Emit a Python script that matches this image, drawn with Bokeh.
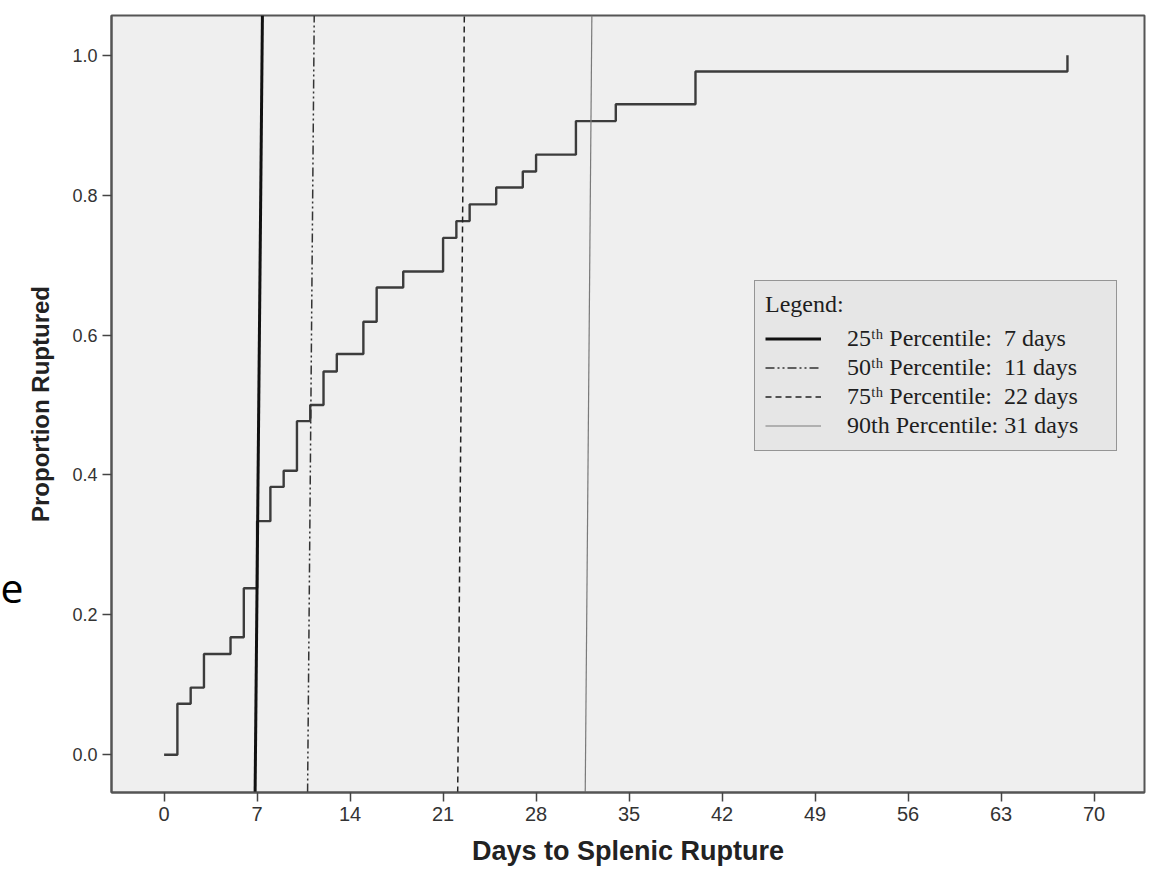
from bokeh.plotting import figure
from bokeh.layouts import row
from bokeh.models import Range1d, FixedTicker, PrintfTickFormatter, Legend, LegendItem, Label
from bokeh.embed import file_html
from bokeh.resources import INLINE

# ---- data ----
days = [0, 1, 2, 3, 5, 6, 7, 8, 9, 10, 11, 12, 13, 15, 16, 18, 21, 22, 23, 25, 27, 28, 31, 34, 40, 68]
proportion = [0.0, 0.073, 0.096, 0.144, 0.168, 0.238, 0.334, 0.383, 0.406, 0.477, 0.500,
              0.548, 0.573, 0.619, 0.668, 0.691, 0.739, 0.763, 0.787, 0.811, 0.834,
              0.858, 0.906, 0.930, 0.977, 1.0]

pct_labels = ["25\u1d57\u02b0 Percentile:\u00a0 7 days",
              "50\u1d57\u02b0 Percentile:\u00a0 11 days",
              "75\u1d57\u02b0 Percentile:\u00a0 22 days",
              "90th Percentile: 31 days"]
pct_x_bottom = [6.85, 10.8, 22.1, 31.7]   # where each marker line meets the x axis
pct_x_top = [7.4, 11.3, 22.6, 32.2]       # where it meets the top of the frame

x_ticks = [0, 7, 14, 21, 28, 35, 42, 49, 56, 63, 70]
y_ticks = [0.0, 0.2, 0.4, 0.6, 0.8, 1.0]

x_lo, x_hi = -3.96, 73.8
y_lo, y_hi = -0.054, 1.057

pct_styles = [
    dict(line_color="#111111", line_width=3.0, line_dash="solid"),
    dict(line_color="#333333", line_width=1.5, line_dash="9 3 2 3 2 3"),
    dict(line_color="#222222", line_width=1.5, line_dash="6 4"),
    dict(line_color="#7a7a7a", line_width=1.2, line_dash="solid"),
]

# narrow strip on the far left holding the slide's stray letter
side = figure(width=23, height=874, output_backend="svg", toolbar_location=None,
              x_axis_location=None, y_axis_location=None,
              min_border=0, outline_line_color=None,
              background_fill_color="white", border_fill_color="white")
side.xgrid.visible = False
side.ygrid.visible = False
side.add_layout(Label(x=0, y=204, x_units="screen", y_units="screen", text="e",
                      text_font="Open Sans", text_font_size="41px",
                      text_align="left", text_baseline="alphabetic", text_color="black"))

p = figure(width=1127, height=874,
           x_range=Range1d(x_lo, x_hi), y_range=Range1d(y_lo, y_hi),
           output_backend="svg", toolbar_location=None,
           min_border_left=88, min_border_right=6, min_border_top=15, min_border_bottom=82,
           background_fill_color="#efefef", border_fill_color="white",
           outline_line_color="#555555", outline_line_width=2)

p.xgrid.visible = False
p.ygrid.visible = False

# step curve
p.step(days, proportion, mode="after", line_color="#3c3c3c", line_width=2.4)

# percentile marker lines
renderers = []
for xb, xt, st in zip(pct_x_bottom, pct_x_top, pct_styles):
    r = p.segment(x0=[xb], y0=[y_lo], x1=[xt], y1=[y_hi], **st)
    renderers.append(r)

# axes
for ax in (p.xaxis, p.yaxis):
    ax.minor_tick_line_color = None
    ax.major_tick_in = 0
    ax.major_tick_out = 9
    ax.major_tick_line_color = "#444444"
    ax.major_tick_line_width = 1.5
    ax.axis_line_color = "#555555"
    ax.axis_line_width = 2
    ax.major_label_text_font = "Liberation Sans"
    ax.major_label_text_color = "#333333"
    ax.axis_label_text_font = "Liberation Sans"
    ax.axis_label_text_font_style = "bold"
    ax.axis_label_text_color = "#222222"

p.xaxis.ticker = FixedTicker(ticks=x_ticks)
p.xaxis.major_label_text_font_size = "20px"
p.xaxis.major_label_standoff = 5
p.xaxis.axis_label = "Days to Splenic Rupture"
p.xaxis.axis_label_text_font_size = "27px"
p.xaxis.axis_label_standoff = 12

p.yaxis.ticker = FixedTicker(ticks=y_ticks)
p.yaxis.formatter = PrintfTickFormatter(format="%.1f")
p.yaxis.major_label_text_font_size = "18px"
p.yaxis.major_label_standoff = 5
p.yaxis.axis_label = "Proportion Ruptured"
p.yaxis.axis_label_text_font_size = "24px"
p.yaxis.axis_label_standoff = 15

legend = Legend(
    items=[LegendItem(label=lab, renderers=[r]) for lab, r in zip(pct_labels, renderers)],
    title="Legend:", location=(643, 341), orientation="vertical",
    padding=10, spacing=0, margin=0,
    glyph_width=56, glyph_height=29, label_height=29, label_width=259,
    label_standoff=26, title_standoff=6,
    label_text_font="Liberation Serif", label_text_font_size="24px", label_text_color="#1e1e1e",
    title_text_font="Liberation Serif", title_text_font_size="24px",
    title_text_font_style="normal", title_text_color="#1e1e1e",
    background_fill_color="#e6e6e6", background_fill_alpha=1.0,
    border_line_color="#444444", border_line_width=1.5,
)
p.add_layout(legend)

layout = row(side, p, spacing=0)
open("out.html", "w").write(file_html(layout, INLINE))
